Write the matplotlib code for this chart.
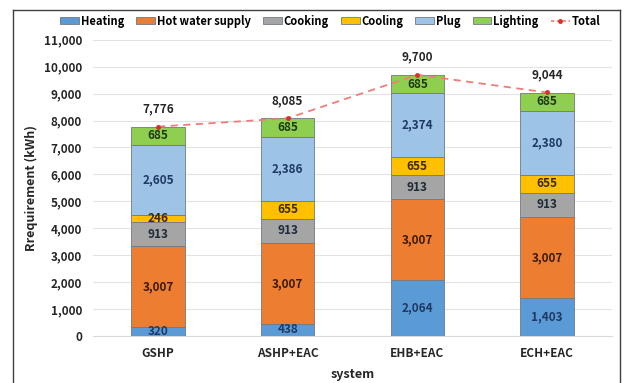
import numpy as np
import matplotlib
matplotlib.use('Agg')
import matplotlib.pyplot as plt
from matplotlib.lines import Line2D
from matplotlib.patches import Patch

plt.rcParams['font.family'] = ['Noto Sans CJK KR', 'DejaVu Sans']

systems = ['GSHP', 'ASHP+EAC', 'EHB+EAC', 'ECH+EAC']
heating = [320, 438, 2064, 1403]
hot_water = [3007, 3007, 3007, 3007]
cooking = [913, 913, 913, 913]
cooling = [246, 655, 655, 655]
plug = [2605, 2386, 2374, 2380]
lighting = [685, 685, 685, 685]
total = [7776, 8085, 9700, 9044]

series = [
    ('Heating', heating, '#5b9bd5', '#1f3864'),
    ('Hot water supply', hot_water, '#ed7d31', '#3a1a08'),
    ('Cooking', cooking, '#a5a5a5', '#1f2a3a'),
    ('Cooling', cooling, '#ffc000', '#3a2a00'),
    ('Plug', plug, '#9dc3e6', '#1f3864'),
    ('Lighting', lighting, '#8fcf50', '#1e3a10'),
]

fig = plt.figure(figsize=(6.25, 3.83), dpi=100)
ax = fig.add_axes([0.149, 0.123, 0.83, 0.773])

x = np.arange(len(systems))
bottom = np.zeros(len(systems))
handles = []
for name, vals, col, tcol in series:
    vals = np.array(vals, dtype=float)
    ax.bar(x, vals, 0.41, bottom=bottom, color=col, edgecolor='#6f7a85', linewidth=0.6, zorder=3)
    for xi, b, v in zip(x, bottom, vals):
        ax.text(xi, b + v / 2, f'{int(v):,}', ha='center', va='center',
                fontsize=8.5, fontweight='bold', color=tcol, zorder=5)
    bottom += vals
    handles.append(Patch(facecolor=col, edgecolor='#6f7a85', linewidth=0.6, label=name))

ax.plot(x, total, linestyle=(0, (4, 3)), color='#f47a7a', linewidth=1.3,
        marker='o', markersize=2.5, markerfacecolor='#d9302c', markeredgecolor='#d9302c', zorder=4)
for xi, t in zip(x, total):
    ax.annotate(f'{t:,}', (xi, t), xytext=(0, 8), textcoords='offset points',
                ha='center', va='bottom', fontsize=8.5, fontweight='bold', color='#262626')

handles.append(Line2D([0], [0], linestyle=(0, (2, 1.5)), color='#f47a7a', linewidth=1.2,
                      marker='o', markersize=2.5, markerfacecolor='#d9302c',
                      markeredgecolor='#d9302c', label='Total'))

ax.set_xlim(-0.5, 3.5)
ax.set_ylim(0, 11000)
ax.set_yticks(np.arange(0, 11001, 1000))
ax.set_yticklabels([f'{v:,}' for v in range(0, 11001, 1000)])
ax.set_xticks(x)
ax.set_xticklabels(systems)
ax.tick_params(length=0, labelsize=8.5, colors='#262626', pad=8)
for lab in ax.get_xticklabels() + ax.get_yticklabels():
    lab.set_fontweight('bold')
ax.grid(axis='y', color='#e3e3e3', linewidth=0.8, zorder=0)
for s in ['top', 'right', 'left']:
    ax.spines[s].set_visible(False)
ax.spines['bottom'].set_color('#d9d9d9')

ax.set_ylabel('Rrequirement (kWh)', fontsize=9, fontweight='bold', color='#262626', labelpad=4)
ax.set_xlabel('system', fontsize=9, fontweight='bold', color='#262626', labelpad=6)

fig.legend(handles=handles, loc='center', bbox_to_anchor=(0.528, 0.945), ncol=7, frameon=False,
           prop={'size': 8, 'weight': 'bold'}, handlelength=1.7, handleheight=0.55,
           handletextpad=0.15, columnspacing=1.1)

# outer frame
fig.add_artist(Line2D([13 / 625, 13 / 625], [0, 1 - 10 / 383], color='#404040', linewidth=1.0))
fig.add_artist(Line2D([13 / 625, 620 / 625], [1 - 10 / 383, 1 - 10 / 383], color='#404040', linewidth=1.0))
fig.add_artist(Line2D([620 / 625, 620 / 625], [0, 1 - 10 / 383], color='#404040', linewidth=1.0))

fig.savefig('out.png', dpi=100)
